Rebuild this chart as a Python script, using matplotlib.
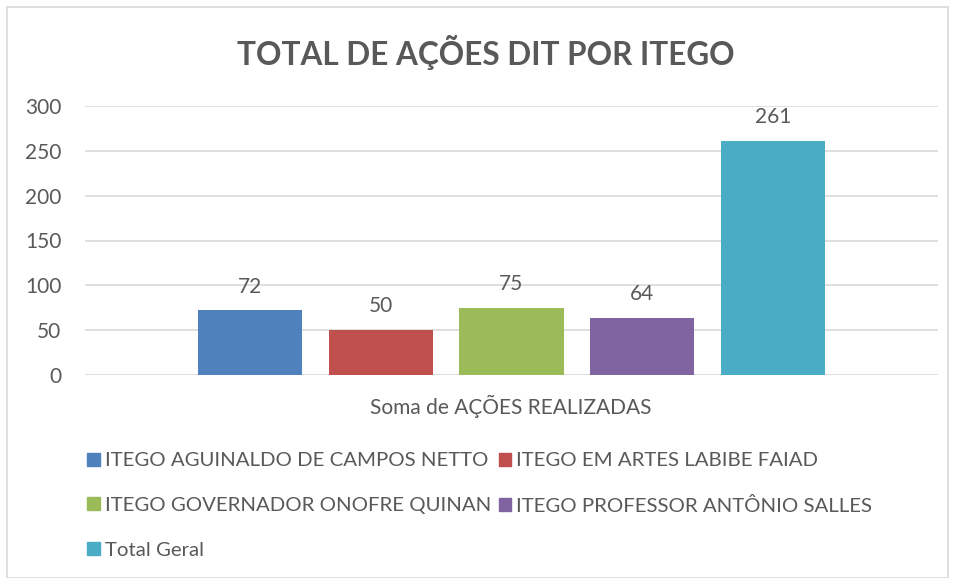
import matplotlib.pyplot as plt
from matplotlib.patches import Patch

categories = ["ITEGO AGUINALDO DE CAMPOS NETTO", "ITEGO EM ARTES LABIBE FAIAD",
              "ITEGO GOVERNADOR ONOFRE QUINAN", "ITEGO PROFESSOR ANTÔNIO SALLES",
              "Total Geral"]
values = [72, 50, 75, 64, 261]
colors = ["#4f81bd", "#c0504d", "#9bbb59", "#8064a2", "#4bacc6"]
yticks = [0, 50, 100, 150, 200, 250, 300]

plt.rcParams['font.family'] = ['Lato', 'DejaVu Sans']
txt = "#595959"
W, H = 955, 578

fig = plt.figure(figsize=(W / 100, H / 100), dpi=100)
ax = fig.add_axes([85 / W, 1 - 375 / H, (938 - 85) / W, (375 - 106) / H])

x = list(range(len(values)))
bars = ax.bar(x, values, width=0.794, color=colors, zorder=3)
for b, v in zip(bars, values):
    ax.annotate(str(v), (b.get_x() + b.get_width() / 2, v), xytext=(0, 10),
                textcoords="offset points", ha="center", va="bottom",
                fontsize=15, color=txt)

ax.set_xlim(-1.256, 5.256)
ax.set_ylim(0, 300)
ax.set_yticks(yticks)
ax.tick_params(axis='y', length=0, labelsize=15, labelcolor=txt, pad=17)
ax.set_xticks([])
ax.grid(axis='y', color="#d9d9d9", linewidth=1.2, zorder=0)
for s in ax.spines.values():
    s.set_visible(False)

fig.text(511 / W, 1 - 406 / H, "Soma de AÇÕES REALIZADAS", ha="center", va="center",
         fontsize=15, color=txt)
fig.text(486 / W, 1 - 52 / H, "TOTAL DE AÇÕES DIT POR ITEGO", ha="center", va="center",
         fontsize=22.7, fontweight="bold", color=txt)

handles = [Patch(color=c, label=l) for c, l in zip(colors, categories)]
order = [0, 2, 4, 1, 3]
fig.legend([handles[i] for i in order], [categories[i] for i in order], ncol=2,
           loc="upper left", bbox_to_anchor=(69 / W, 1 - 434 / H), frameon=False,
           fontsize=14.7, labelcolor=txt, handlelength=0.6, handleheight=0.6,
           handletextpad=0.25, columnspacing=0.4, labelspacing=1.36)

fig.add_artist(plt.Rectangle((7 / W, 0), (948 - 7) / W, 1 - 7 / H, transform=fig.transFigure,
                             fill=False, edgecolor="#d9d9d9", linewidth=1.2))

fig.savefig("out.png", dpi=100)
